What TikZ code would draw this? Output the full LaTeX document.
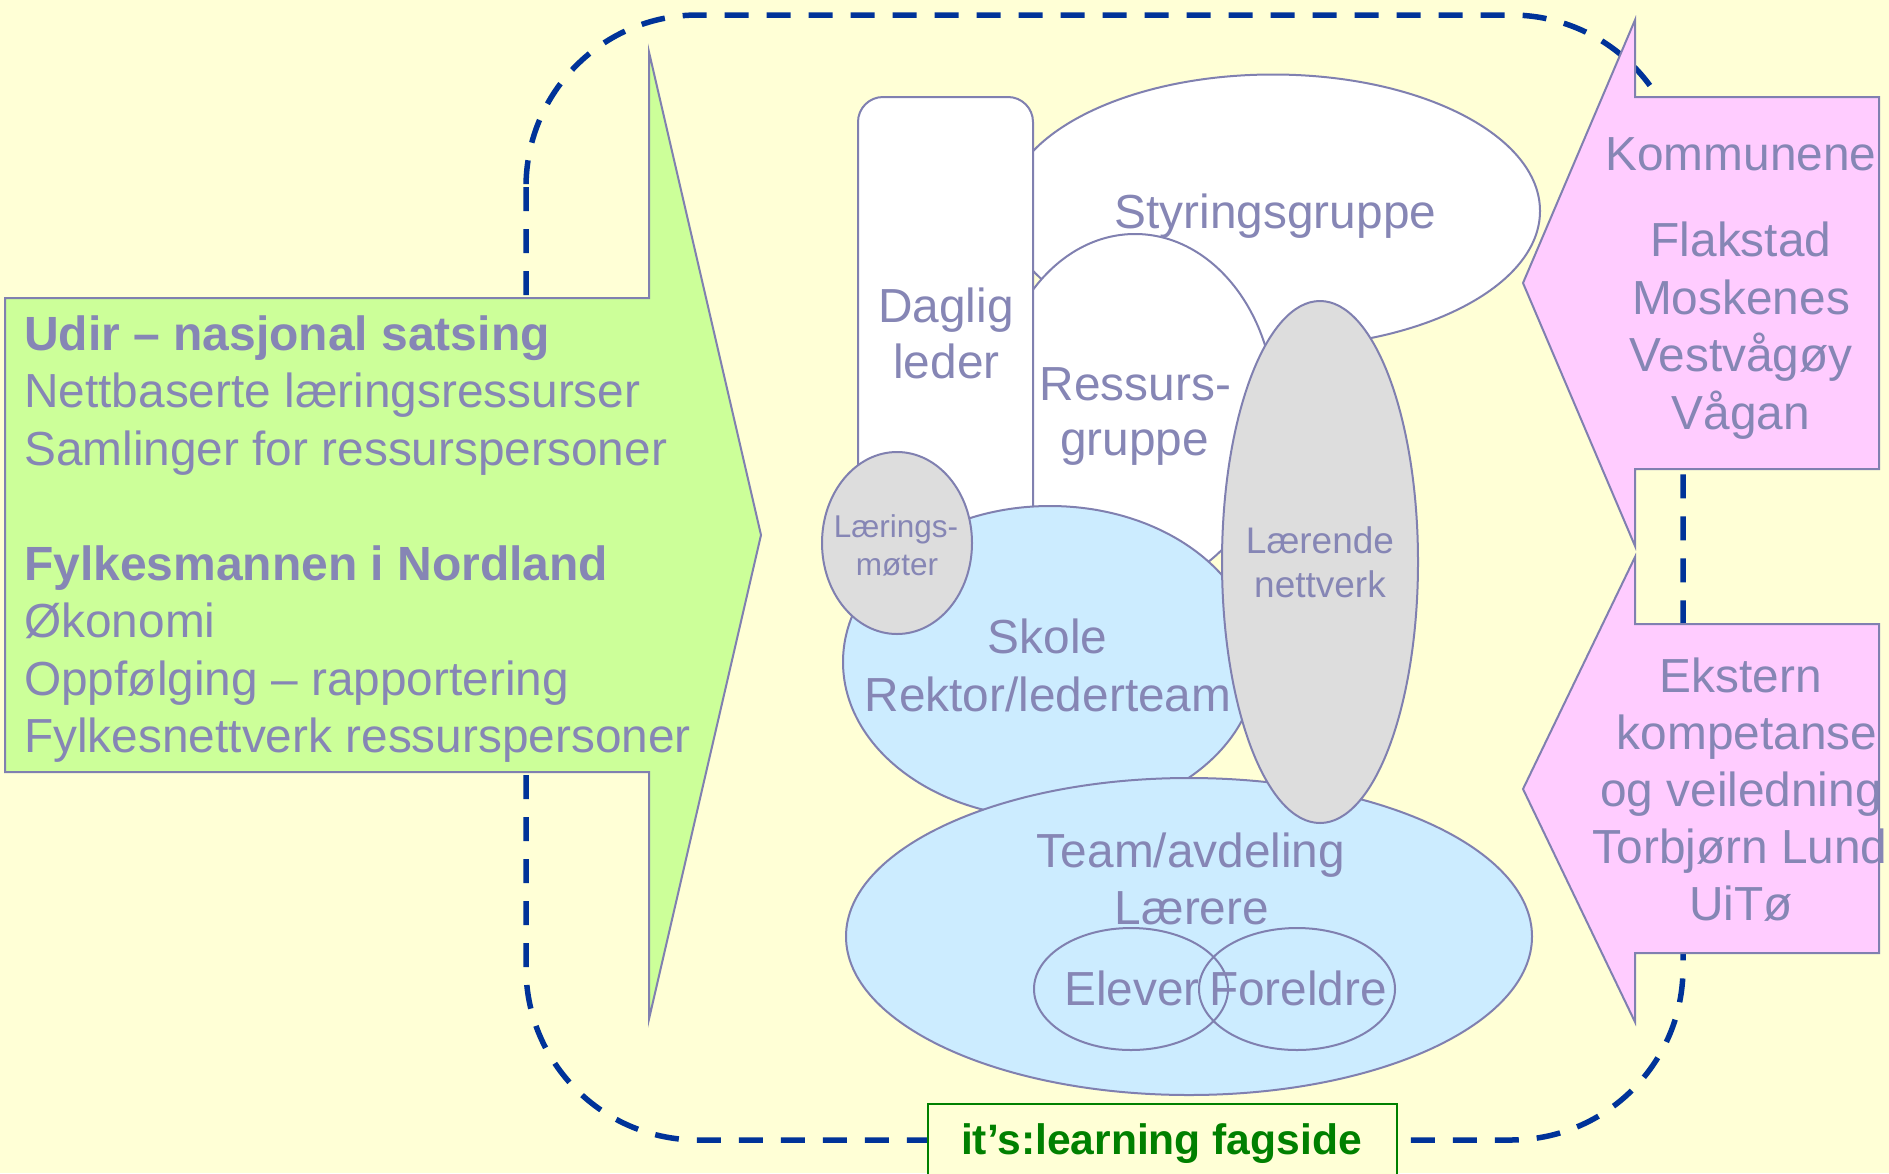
\documentclass[tikz,border=0pt]{standalone}
\usepackage{fontspec}
\setmainfont{Liberation Sans}
\usetikzlibrary{shapes.geometric}
\definecolor{bg}{RGB}{255,255,214}
\definecolor{frameblue}{RGB}{0,51,153}
\definecolor{edgec}{RGB}{128,128,176}
\definecolor{txt}{RGB}{134,134,181}
\definecolor{greenfill}{RGB}{204,255,153}
\definecolor{pinkfill}{RGB}{255,204,255}
\definecolor{bluefill}{RGB}{204,236,255}
\definecolor{grayfill}{RGB}{221,221,221}
\definecolor{itsgreen}{RGB}{0,128,0}
\begin{document}
\begin{tikzpicture}[x=1pt,y=-1pt,
  shp/.style={draw=edgec, line width=2pt},
  ell/.style={shp, ellipse, inner sep=0pt, outer sep=0pt},
  big/.style={font=\fontsize{47.8}{57}\selectfont, text=txt, inner sep=0pt, anchor=base},
  bigb/.style={big, font=\fontsize{48}{57}\selectfont\bfseries},
  leftline/.style={anchor=base west},
  mid/.style={font=\fontsize{37}{44}\selectfont, text=txt, inner sep=0pt, anchor=base},
  small/.style={font=\fontsize{31.5}{38}\selectfont, text=txt, inner sep=0pt, anchor=base},
  dashframe/.style={draw=frameblue, line width=5.5pt, dash pattern=on 24pt off 18pt, rounded corners=172pt},
  arrowshape/.style={draw=edgec, line width=2pt, line join=miter}
]
% background and bounding box
\fill[bg] (0,0) rectangle (1889,1173);
\useasboundingbox (0,0) rectangle (1889,1173);

% dashed frame
\draw[dashframe] (526,15) rectangle (1683,1140);

% left green arrow
\draw[arrowshape, fill=greenfill] (5,298) -- (649,298) -- (649,52) -- (761,535) -- (649,1019) -- (649,772) -- (5,772) -- cycle;
% right pink arrows
\draw[arrowshape, fill=pinkfill] (1879,97) -- (1635,97) -- (1635,20) -- (1523,283) -- (1635,546) -- (1635,469) -- (1879,469) -- cycle;
\draw[arrowshape, fill=pinkfill] (1879,624) -- (1635,624) -- (1635,557) -- (1523,789) -- (1635,1022) -- (1635,953) -- (1879,953) -- cycle;

% it's:learning box
\node[draw=itsgreen, line width=2pt, fill=bg, inner sep=0pt, minimum width=469pt, minimum height=100pt, anchor=north west] (its) at (927,1103) {};
\node[font=\fontsize{42.6}{50}\selectfont\bfseries, text=itsgreen, inner sep=0pt, anchor=base] (itstext) at (1161.5,1154) {it’s:learning fagside};

% central shapes
\node[ell, fill=white, minimum width=534pt, minimum height=273pt] (styr) at (1273,211) {};
\node[ell, fill=white, minimum width=280pt, minimum height=354pt] (ress) at (1135,411) {};
\draw[shp, fill=white, rounded corners=25pt] (858,566) -- (858,97) -- (1033,97) -- (1033,566) -- cycle;
\coordinate (daglig) at (946,330);
\node[ell, fill=bluefill, minimum width=414pt, minimum height=312pt] (skole) at (1050,662) {};
\node[ell, fill=grayfill, minimum width=150pt, minimum height=182pt] (lmot) at (897,543) {};
\node[ell, fill=bluefill, minimum width=686pt, minimum height=317pt] (team) at (1189,936.5) {};
\node[ell, fill=grayfill, minimum width=196pt, minimum height=522pt] (laer) at (1320,562) {};
\node[ell, minimum width=194pt, minimum height=122pt] (elev) at (1131,989) {};
\node[ell, minimum width=196pt, minimum height=122pt] (foreld) at (1297,989) {};

% texts in central shapes
\node[big] (tdag1) at (946,322) {Daglig};
\node[big] (tdag2) at (946.5,378) {leder};
\node[big] (tstyr) at (1275.5,228) {Styringsgruppe};
\node[big] (tres1) at (1135.5,400) {Ressurs-};
\node[big] (tres2) at (1134.5,455) {gruppe};
\node[small] (tlm1) at (896,537) {Lærings-};
\node[small] (tlm2) at (897,575) {møter};
\node[big] (tsk1) at (1047.5,653) {Skole};
\node[big] (tsk2) at (1048,711) {Rektor/lederteam};
\node[mid] (tln1) at (1320,553) {Lærende};
\node[mid] (tln2) at (1320,597.5) {nettverk};
\node[big] (tteam1) at (1191,867) {Team/avdeling};
\node[big] (tteam2) at (1192,924) {Lærere};
\node[big] (telev) at (1132,1005) {Elever};
\node[big] (tfor) at (1298,1005) {Foreldre};

% left text
\node[bigb, leftline] (l1) at (24,350) {Udir – nasjonal satsing};
\node[big, leftline] (l2) at (24,407.5) {Nettbaserte læringsressurser};
\node[big, leftline] (l3) at (24,465) {Samlinger for ressurspersoner};
\node[bigb, leftline] (l4) at (24,580) {Fylkesmannen i Nordland};
\node[big, leftline] (l5) at (24,637.5) {Økonomi};
\node[big, leftline] (l6) at (24,695) {Oppfølging – rapportering};
\node[big, leftline] (l7) at (24,752.5) {Fylkesnettverk ressurspersoner};

% right texts
\node[big] (r1) at (1741,170.5) {Kommunene};
\node[big] (r2) at (1741,256.5) {Flakstad};
\node[big] (r3) at (1741,314) {Moskenes};
\node[big] (r4) at (1741,371.5) {Vestvågøy};
\node[big] (r5) at (1741,429) {Vågan};
\node[big] (e1) at (1741,692) {Ekstern};
\node[big] (e2) at (1747,749) {kompetanse};
\node[big] (e3) at (1741,806) {og veiledning};
\node[big] (e4) at (1740,863) {Torbjørn Lund};
\node[big] (e5) at (1741,920) {UiTø};
\end{tikzpicture}
\end{document}
